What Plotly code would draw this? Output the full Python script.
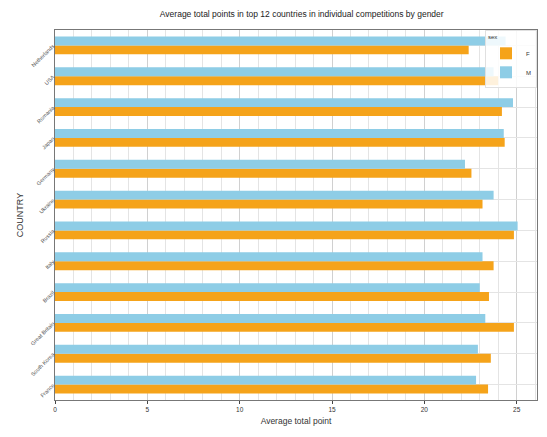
import plotly.graph_objects as go

# Categories listed from top of chart to bottom
countries = ["Netherlands", "USA", "Romania", "Japan", "Germany", "Ukraine",
             "Russia", "Italy", "Brazil", "Great Britain", "South Korea", "France"]
female = [22.4, 24.0, 24.2, 24.35, 22.55, 23.15, 24.85, 23.75, 23.5, 24.85, 23.6, 23.45]
male = [24.4, 23.75, 24.8, 24.3, 22.2, 23.75, 25.05, 23.15, 23.0, 23.3, 22.9, 22.8]
x_ticks = [0, 5, 10, 15, 20, 25]

FONT = "Liberation Sans, Arial, sans-serif"

fig = go.Figure()
fig.add_trace(go.Bar(y=countries, x=female, name="F", orientation="h",
                     marker=dict(color="#F5A31A", line=dict(width=0))))
fig.add_trace(go.Bar(y=countries, x=male, name="M", orientation="h",
                     marker=dict(color="#8ECDE6", line=dict(width=0))))

fig.update_layout(
    width=539, height=429,
    barmode="group", bargap=0.42, bargroupgap=0.0,
    margin=dict(l=47, r=10, t=22, b=37),
    paper_bgcolor="white", plot_bgcolor="white",
    font=dict(family=FONT, size=8, color="#333333"),
    title=dict(text="Average total points in top 12 countries in individual competitions by gender",
               x=0.545, xanchor="center", y=0.985, yanchor="middle",
               font=dict(family=FONT, size=8.5, color="#222222")),
    legend=dict(title=dict(text="sex", font=dict(size=6)), x=1.0, y=1.0,
                xanchor="right", yanchor="top", bgcolor="rgba(255,255,255,0.85)",
                bordercolor="#e0e0e0", borderwidth=1, font=dict(size=6),
                itemwidth=30, tracegroupgap=0),
    xaxis=dict(title=dict(text="Average total point", font=dict(size=8.5), standoff=6),
               range=[0, 26.1], tickvals=x_ticks, ticks="outside", ticklen=3,
               showgrid=True, gridcolor="#d0d0d0", gridwidth=1,
               minor=dict(dtick=1, showgrid=True, gridcolor="#e4e4e4", gridwidth=1),
               showline=True, linecolor="#777777", mirror=True, zeroline=False,
               tickfont=dict(size=6.5), automargin=False),
    yaxis=dict(title=dict(text="COUNTRY", font=dict(size=9), standoff=4),
               categoryorder="array", categoryarray=countries[::-1],
               tickangle=-45, tickfont=dict(size=5.5, color="#555555"),
               showgrid=True, gridcolor="#e4e4e4",
               showline=True, linecolor="#777777", mirror=True, automargin=False),
)

fig.write_html("out.html")
